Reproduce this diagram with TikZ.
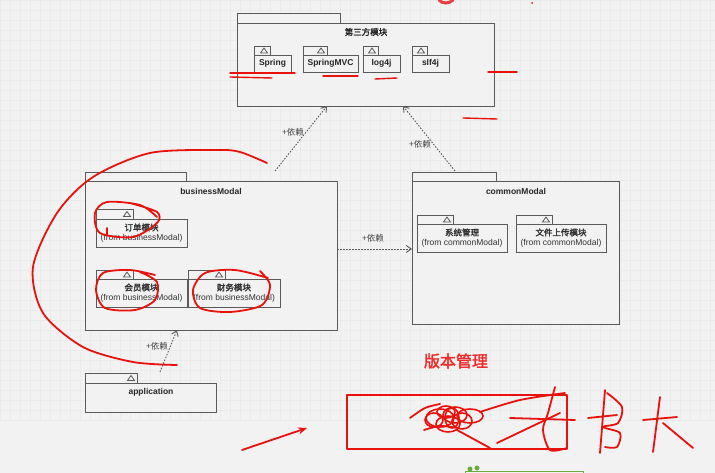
\documentclass[tikz,border=0pt]{standalone}
\usepackage{fontspec}
\setmainfont{Liberation Sans}
\newfontfamily\cjk[AutoFakeBold=2]{Noto Sans CJK SC}
\usetikzlibrary{arrows.meta,calc}
\definecolor{bg}{HTML}{F2F2F2}
\definecolor{gridc}{HTML}{EBEBEB}
\definecolor{ln}{HTML}{5A5A5A}
\definecolor{ink}{HTML}{E8120C}
\definecolor{inktxt}{HTML}{EE2A2A}
\definecolor{grn}{HTML}{6AAB3E}
\tikzset{
  pkgbody/.style={draw=ln, line width=0.9pt, inner sep=0pt, outer sep=0pt, rectangle, fill=bg},
  ptitle/.style={font=\bfseries\fontsize{8.5}{10}\selectfont, text=black!85, inner sep=0pt},
  ctitle/.style={font=\cjk\bfseries\fontsize{8.5}{10}\selectfont, text=black!85, inner sep=0pt},
  pinner/.style={align=center, font=\fontsize{8.5}{10}\selectfont, text=black!80, inner sep=0pt},
  dep/.style={draw=ln, line width=0.9pt, dash pattern=on 1.5pt off 1.5pt, -{Straight Barb[length=5pt,width=7pt]}},
  deplabel/.style={font=\cjk\fontsize{8.5}{10}\selectfont, text=black!75, inner sep=0pt},
  redink/.style={draw=ink, line width=1.8pt, line cap=round, line join=round},
  redthin/.style={draw=ink, line width=1.4pt, line cap=round, line join=round},
}
\newcommand\pkgbox[7]{%
  \node[pkgbody,anchor=north west,minimum width=#4pt,minimum height=#5pt] (#1) at (#2,#3) {};
  \node[pkgbody,anchor=south west,minimum width=#6pt,minimum height=#7pt] (#1-tab) at (#1.north west) {};}
\newcommand\pkgtri[1]{%
  \draw[ln, line width=0.8pt] ([xshift=-9.5pt,yshift=-2.5pt]#1-tab.east) -- ([xshift=-6pt,yshift=2.5pt]#1-tab.east) -- ([xshift=-2.5pt,yshift=-2.5pt]#1-tab.east) -- cycle;}
\begin{document}
\begin{tikzpicture}[x=1pt,y=-1pt]
\fill[bg] (0,0) rectangle (715,473);
\useasboundingbox (0,0) rectangle (715,473);
\draw[gridc, line width=0.4pt, step=10pt] (0,0) grid (715,420);

% third party
\pkgbox{third}{237}{23}{257}{83}{103}{10}
\node[ctitle] (thirdt) at (366,32) {第三方模块};
\pkgbox{spring}{254}{55}{37}{17}{16}{9}\pkgtri{spring}
\node[ptitle] (springt) at (spring.center) {Spring};
\pkgbox{mvc}{303}{55}{55}{17}{24}{9}\pkgtri{mvc}
\node[ptitle] (mvct) at (mvc.center) {SpringMVC};
\pkgbox{log}{363}{55}{37}{17}{15}{9}\pkgtri{log}
\node[ptitle] (logt) at (log.center) {log4j};
\pkgbox{slf}{412}{55}{37}{17}{15}{9}\pkgtri{slf}
\node[ptitle] (slft) at (slf.center) {slf4j};

% business
\pkgbox{bus}{85}{181}{252}{149}{101}{9}
\node[ptitle] (bust) at (211,191) {businessModal};
\pkgbox{order}{96}{219}{91}{28}{37}{10}\pkgtri{order}
\node[pinner] (ordert) at (order.center) {{\cjk\bfseries 订单模块}\\(from businessModal)};
\pkgbox{member}{96}{279}{91}{28}{37}{9}\pkgtri{member}
\node[pinner] (membert) at (member.center) {{\cjk\bfseries 会员模块}\\(from businessModal)};
\pkgbox{fin}{188}{279}{92}{28}{37}{9}\pkgtri{fin}
\node[pinner] (fint) at (fin.center) {{\cjk\bfseries 财务模块}\\(from businessModal)};

% common
\pkgbox{com}{412}{181}{207}{143}{84}{9}
\node[ptitle] (comt) at (516,191) {commonModal};
\pkgbox{sys}{417}{224}{90}{28}{36}{9}\pkgtri{sys}
\node[pinner] (syst) at (sys.center) {{\cjk\bfseries 系统管理}\\(from commonModal)};
\pkgbox{file}{516}{224}{90}{28}{36}{9}\pkgtri{file}
\node[pinner] (filet) at (file.center) {{\cjk\bfseries 文件上传模块}\\(from commonModal)};

% application
\pkgbox{app}{85}{383}{131}{29}{52}{10}\pkgtri{app}
\node[ptitle] (appt) at (151,392) {application};

% dependencies
\coordinate (d1s) at (275,171);
\coordinate (d2s) at (455,171);
\coordinate (d4s) at (160,372);
\draw[dep] (d1s) -- ([xshift=90pt]third.south west);
\draw[dep] (d2s) -- ([xshift=166pt]third.south west);
\draw[dep] ([yshift=6.5pt]bus.east) -- ([yshift=3.5pt]com.west);
\draw[dep] (d4s) -- ([xshift=92pt]bus.south west);
\node[deplabel] (l1) at (293,132) {+依赖};
\node[deplabel] (l2) at (420,144) {+依赖};
\node[deplabel] (l3) at (373,238) {+依赖};
\node[deplabel] (l4) at (157,346) {+依赖};

% red annotations
\draw[draw=ink!80, line width=3pt, line cap=round] (439,0) .. controls (442,4) and (449,4) .. (453,0);
\fill[ink] (532,3) circle (1pt);
\draw[redthin] (230,73) -- (295,73);
\draw[redthin] (230,77) -- (272,78);
\draw[redthin] (323,76) -- (358,76);
\draw[redthin] (375,79) -- (397,78);
\draw[redthin] (488,72) -- (517,72);
\draw[redthin] (463,118) -- (497,119);
\draw[redink] plot[smooth] coordinates {(130,203) (157,212) (157,223) (133,237) (100,233) (95,213) (107,202) (140,205) (157,217)};
\draw[redink] (107,228) -- (107,235);
\draw[redink] plot[smooth] coordinates {(140,272) (157,282) (155,300) (135,310) (105,308) (96,290) (103,273) (130,270) (155,275)};
\draw[redink] plot[smooth] coordinates {(260,271) (270,285) (262,305) (230,312) (200,308) (193,290) (205,273) (235,270) (268,278)};
\draw[redink] plot[smooth] coordinates {(267,163) (240,152) (217,150) (150,153) (93,177) (57,213) (33,267) (43,313) (83,347) (133,362) (177,365)};
\draw[redink, -{Stealth[length=9pt,width=7pt]}] (242,450) -- (307,428);
\node[font=\cjk\bfseries\fontsize{16}{18}\selectfont, text=inktxt, inner sep=0pt] (ver) at (456,361) {版本管理};
\draw[redthin] (347,395) rectangle (567,449);
% scribbles
\begin{scope}[redink, line width=1.6pt]
\draw (440,418) ellipse (14pt and 9pt);
\draw (455,415) ellipse (12pt and 8pt);
\draw (470,416) ellipse (13pt and 7pt);
\draw (448,424) ellipse (12pt and 8pt);
\draw (434,420) ellipse (9pt and 7pt);
\draw (462,421) ellipse (10pt and 8pt);
\draw (446,412) ellipse (9pt and 6pt);
\draw (452,418) ellipse (7pt and 10pt);
\end{scope}
\draw[redink] plot[smooth] coordinates {(410,418) (425,408) (440,404)};
\draw[redink] plot[smooth] coordinates {(424,430) (440,426) (458,428)};
\draw[redink] (457,430) -- (490,448);
\draw[redink] plot[smooth] coordinates {(480,412) (520,400) (565,393)};
\draw[redink] plot[smooth] coordinates {(555,387) (548,413) (543,430) (550,450) (567,448)};
\draw[redink] (510,418) -- (575,420);
\draw[redink] (497,443) -- (560,413);
\draw[redink] (605,390) -- (600,453);
\draw[redink] (588,418) -- (617,415);
\draw[redink] plot[smooth] coordinates {(607,393) (622,407) (618,423) (603,427) (620,433) (617,447) (605,447)};
\draw[redink] (643,420) -- (677,417);
\draw[redink] (660,397) -- (653,452);
\draw[redink] (663,423) -- (693,448);
% green element
\draw[grn, line width=1pt] (465,471) rectangle (583,480);
\fill[grn] (470,469) circle (2.5pt) (477,468) circle (2.5pt);
\end{tikzpicture}
\end{document}
